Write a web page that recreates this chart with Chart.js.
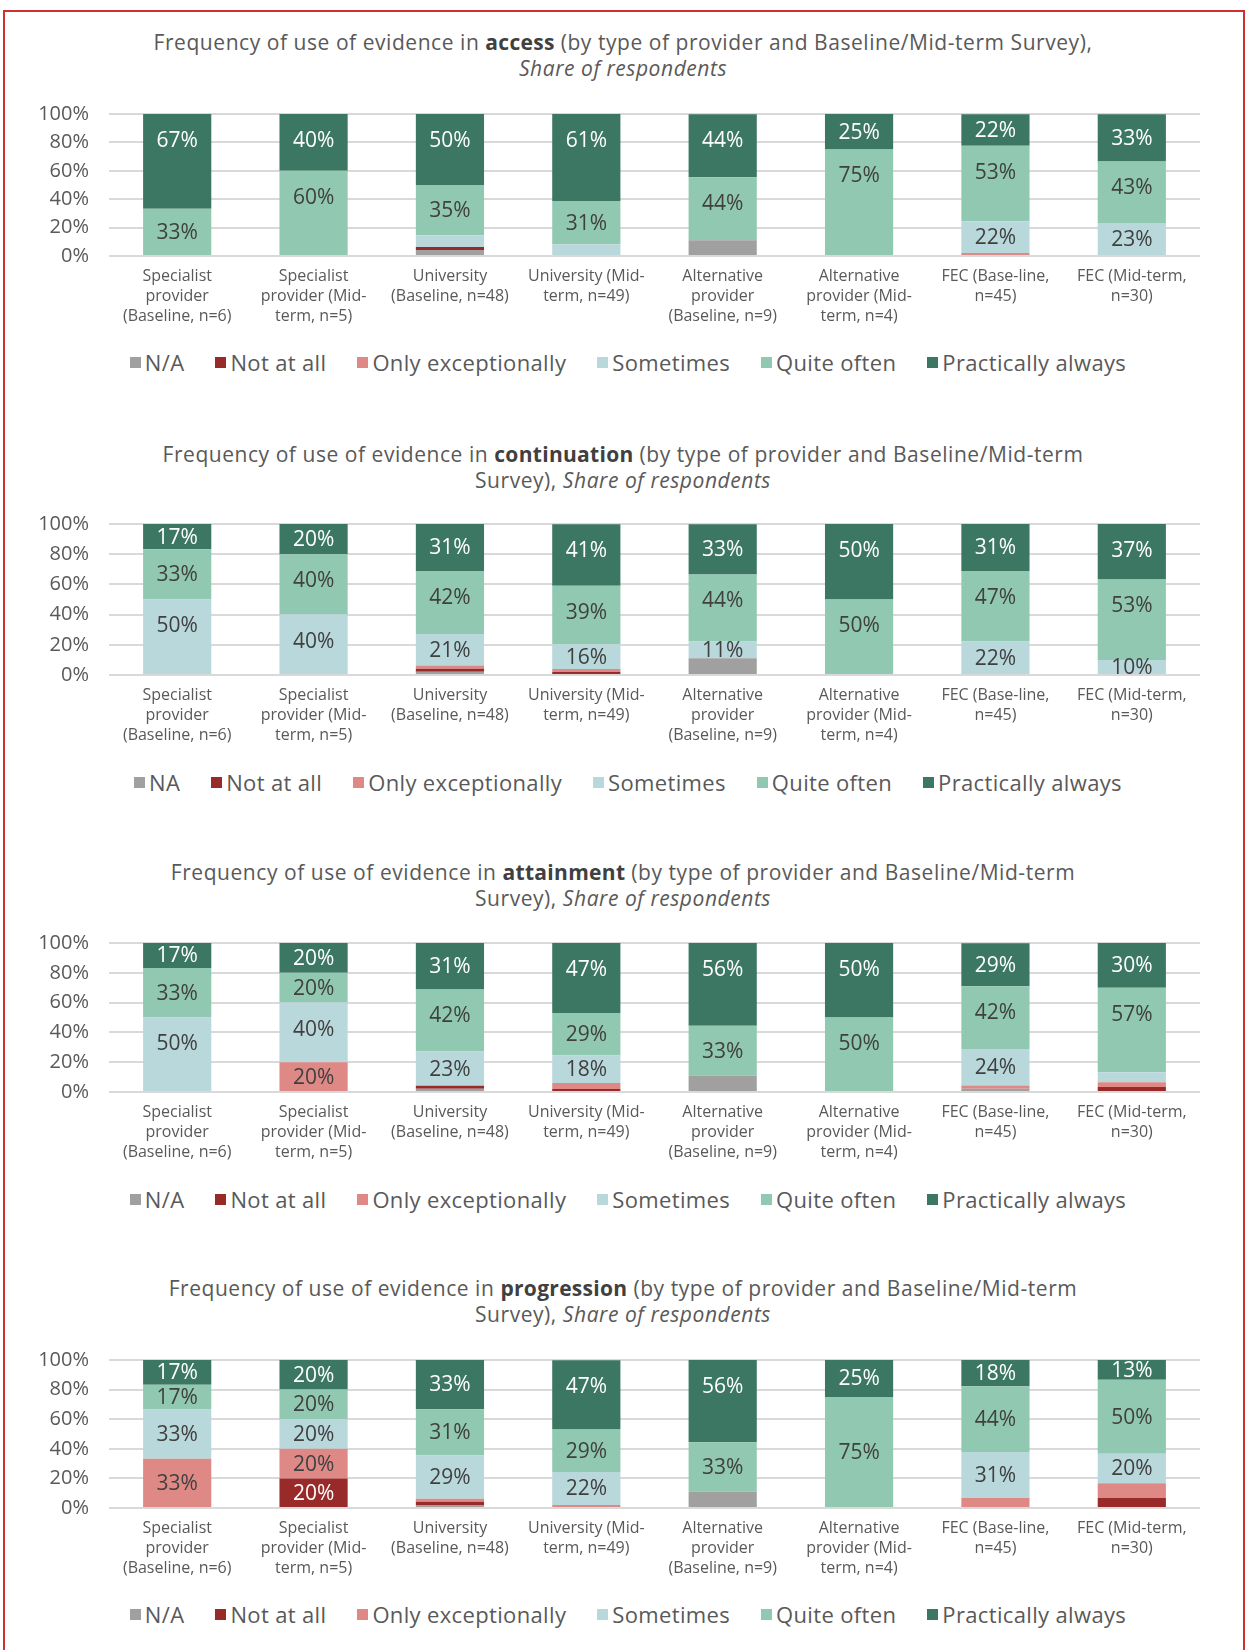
<!DOCTYPE html>
<html>
<head>
<meta charset="utf-8">
<script src="https://cdn.jsdelivr.net/npm/chart.js@4.4.1/dist/chart.umd.min.js"></script>
<style>
  body { margin: 0; background: #fff; }
  #page { position: relative; width: 1246px; height: 1650px; overflow: hidden; }
  #frame { position: absolute; left: 3px; top: 10px; width: 1238px; height: 1700px;
           border: 2px solid #cf3030; border-bottom: none; }
  .title { position: absolute; left: 0; width: 1246px; text-align: center;
           font-family: 'Open Sans', sans-serif; font-size: 21px; letter-spacing: 0.55px;
           line-height: 26px; color: #595959; }
  .title b { color: #404040; letter-spacing: 0.3px; }
  .legend { position: absolute; left: 5px; width: 1246px; height: 30px; display: flex;
            justify-content: center; align-items: center;
            font-family: 'Open Sans', sans-serif; font-size: 22px; letter-spacing: 0.35px; color: #595959; }
  .legend .item { display: flex; align-items: center; margin: 0 15.5px; }
  .legend .box { width: 11px; height: 11px; margin-right: 4px; }
  canvas { position: absolute; left: 0; }
</style>
</head>
<body>
<div id="page">
  <div id="frame"></div>

  <div class="title" style="top:29px">Frequency of use of evidence in <b>access</b> (by type of provider and Baseline/Mid-term Survey),<br><i>Share of respondents</i></div>
  <canvas id="c1"></canvas>
  <div class="legend" id="l1" style="top:347px"></div>

  <div class="title" style="top:441px">Frequency of use of evidence in <b>continuation</b> (by type of provider and Baseline/Mid-term<br>Survey), <i>Share of respondents</i></div>
  <canvas id="c2"></canvas>
  <div class="legend" id="l2" style="top:767px"></div>

  <div class="title" style="top:859px">Frequency of use of evidence in <b>attainment</b> (by type of provider and Baseline/Mid-term<br>Survey), <i>Share of respondents</i></div>
  <canvas id="c3"></canvas>
  <div class="legend" id="l3" style="top:1184px"></div>

  <div class="title" style="top:1275px">Frequency of use of evidence in <b>progression</b> (by type of provider and Baseline/Mid-term<br>Survey), <i>Share of respondents</i></div>
  <canvas id="c4"></canvas>
  <div class="legend" id="l4" style="top:1599px"></div>
</div>

<script>
// categories (x axis)
const categories = [
  ['Specialist', 'provider', '(Baseline, n=6)'],
  ['Specialist', 'provider (Mid-', 'term, n=5)'],
  ['University', '(Baseline, n=48)'],
  ['University (Mid-', 'term, n=49)'],
  ['Alternative', 'provider', '(Baseline, n=9)'],
  ['Alternative', 'provider (Mid-', 'term, n=4)'],
  ['FEC (Base-line,', 'n=45)'],
  ['FEC (Mid-term,', 'n=30)']
]

const seriesNames = ['N/A', 'Not at all', 'Only exceptionally', 'Sometimes', 'Quite often', 'Practically always']
const seriesNamesNA = ['NA', 'Not at all', 'Only exceptionally', 'Sometimes', 'Quite often', 'Practically always']
const seriesColors = ['#a0a0a0', '#982a2a', '#df8986', '#b9d8db', '#90c8b1', '#3b7762']
const labelColors = ['#404040', '#ffffff', '#404040', '#404040', '#404040', '#ffffff']
const labelMin = [Infinity, 10, 15, 9.5, 9.5, 9.5]

const yTicks = [0, 20, 40, 60, 80, 100]

// access
const accessNA        = [0, 0, 4.2, 0, 11.1, 0, 0, 0]
const accessNotAtAll  = [0, 0, 2.1, 0, 0, 0, 0, 0]
const accessOnlyExc   = [0, 0, 0, 0, 0, 0, 2.2, 0]
const accessSometimes = [0, 0, 8.3, 8.2, 0, 0, 22.2, 23.3]
const accessQuite     = [33.3, 60, 35.4, 30.6, 44.4, 75, 53.3, 43.3]
const accessAlways    = [66.7, 40, 50, 61.2, 44.4, 25, 22.2, 33.3]

// continuation
const contNA        = [0, 0, 2.1, 0, 11.1, 0, 0, 0]
const contNotAtAll  = [0, 0, 2.1, 2.0, 0, 0, 0, 0]
const contOnlyExc   = [0, 0, 2.1, 2.0, 0, 0, 0, 0]
const contSometimes = [50, 40, 20.8, 16.3, 11.1, 0, 22.2, 10]
const contQuite     = [33.3, 40, 41.7, 38.8, 44.4, 50, 46.7, 53.3]
const contAlways    = [16.7, 20, 31.3, 40.8, 33.3, 50, 31.1, 36.7]

// attainment
const attNA        = [0, 0, 2.1, 0, 11.1, 0, 2.2, 0]
const attNotAtAll  = [0, 0, 2.1, 2.0, 0, 0, 0, 3.3]
const attOnlyExc   = [0, 20, 0, 4.1, 0, 0, 2.2, 3.3]
const attSometimes = [50, 40, 22.9, 18.4, 0, 0, 24.4, 6.7]
const attQuite     = [33.3, 20, 41.7, 28.6, 33.3, 50, 42.2, 56.7]
const attAlways    = [16.7, 20, 31.3, 46.9, 55.6, 50, 28.9, 30]

// progression
const progNA        = [0, 0, 2.1, 0, 11.1, 0, 0, 0]
const progNotAtAll  = [0, 20, 2.1, 0, 0, 0, 0, 6.7]
const progOnlyExc   = [33.3, 20, 2.1, 2.0, 0, 0, 6.7, 10]
const progSometimes = [33.3, 20, 29.2, 22.4, 0, 0, 31.1, 20]
const progQuite     = [16.7, 20, 31.3, 28.6, 33.3, 75, 44.4, 50]
const progAlways    = [16.7, 20, 33.3, 46.9, 55.6, 25, 17.8, 13.3]

Chart.defaults.font.family = "'Open Sans', sans-serif"
Chart.defaults.color = '#595959'

// % labels: centred in the segment, but (from series capFrom on) never further than ~26px below its top
const barLabels = {
  id: 'barLabels',
  afterDatasetsDraw(chart, args, opts) {
    const ctx = chart.ctx
    ctx.save()
    ctx.font = "21px 'Open Sans', sans-serif"
    ctx.textAlign = 'center'
    ctx.textBaseline = 'middle'
    chart.data.datasets.forEach((ds, di) => {
      chart.getDatasetMeta(di).data.forEach((bar, i) => {
        const v = ds.data[i]
        if (!(v >= labelMin[di])) return
        const p = bar.getProps(['x', 'y', 'base'], true)
        let ly = (p.y + p.base) / 2
        if (di >= opts.capFrom) ly = Math.min(ly, p.y + 26)
        ctx.fillStyle = labelColors[di]
        ctx.fillText(Math.round(v) + '%', p.x, ly + 1)
      })
    })
    ctx.restore()
  }
}

const buildConfig = (names, values, capFrom) => ({
  type: 'bar',
  data: {
    labels: categories,
    datasets: values.map((d, i) => ({
      label: names[i],
      data: d,
      backgroundColor: seriesColors[i],
      borderWidth: 0,
      barPercentage: 0.5,
      categoryPercentage: 1
    }))
  },
  options: {
    responsive: false,
    maintainAspectRatio: false,
    animation: false,
    layout: { padding: { top: 14, left: 39, right: 46, bottom: 4 } },
    scales: {
      x: {
        stacked: true,
        grid: { display: false, drawTicks: false },
        border: { display: false },
        ticks: {
          autoSkip: false, maxRotation: 0, padding: 10,
          font: { size: 16, lineHeight: 1.25 }, color: '#595959'
        }
      },
      y: {
        stacked: true,
        min: 0, max: 100,
        afterFit: s => { s.width = 70 },
        afterBuildTicks: s => { s.ticks = yTicks.map(v => ({ value: v })) },
        grid: { color: '#d9d9d9', lineWidth: 2, drawTicks: false },
        border: { display: false },
        ticks: {
          autoSkip: false,
          padding: 20,
          font: { size: 20 }, color: '#595959',
          callback: v => v + '%'
        }
      }
    },
    plugins: {
      legend: { display: false },
      tooltip: { enabled: false },
      barLabels: { capFrom }
    }
  },
  plugins: [barLabels]
})

// plotTop / plotH: where the 100% and 0% gridlines sit on the page
const makeChart = (id, legendId, plotTop, plotH, names, values, capFrom) => {
  const cv = document.getElementById(id)
  cv.width = 1246
  cv.height = plotH + 100
  let chart = new Chart(cv, buildConfig(names, values, capFrom))
  const a = chart.chartArea
  const h = plotH + 100 + plotH - (a.bottom - a.top)
  chart.destroy()
  cv.width = 1246
  cv.height = h
  chart = new Chart(cv, buildConfig(names, values, capFrom))
  cv.style.top = (plotTop - chart.chartArea.top) + 'px'

  const lg = document.getElementById(legendId)
  names.forEach((n, i) => {
    const item = document.createElement('div')
    item.className = 'item'
    const box = document.createElement('span')
    box.className = 'box'
    box.style.background = seriesColors[i]
    item.appendChild(box)
    item.appendChild(document.createTextNode(n))
    lg.appendChild(item)
  })
  return chart
}

makeChart('c1', 'l1', 114, 142, seriesNames,
  [accessNA, accessNotAtAll, accessOnlyExc, accessSometimes, accessQuite, accessAlways], 0)
makeChart('c2', 'l2', 524, 151, seriesNamesNA,
  [contNA, contNotAtAll, contOnlyExc, contSometimes, contQuite, contAlways], 0)
makeChart('c3', 'l3', 943, 149, seriesNames,
  [attNA, attNotAtAll, attOnlyExc, attSometimes, attQuite, attAlways], 0)
makeChart('c4', 'l4', 1360, 148, seriesNames,
  [progNA, progNotAtAll, progOnlyExc, progSometimes, progQuite, progAlways], 5)
</script>
</body>
</html>
